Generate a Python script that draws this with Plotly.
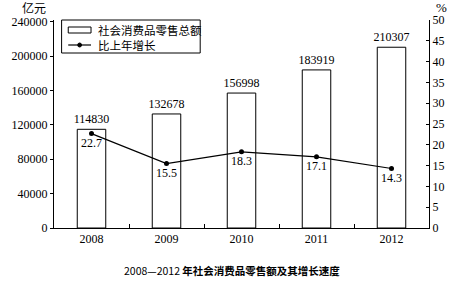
import plotly.graph_objects as go

years = ["2008", "2009", "2010", "2011", "2012"]
sales = [114830, 132678, 156998, 183919, 210307]
growth = [22.7, 15.5, 18.3, 17.1, 14.3]
left_ticks = [0, 40000, 80000, 120000, 160000, 200000, 240000]
right_ticks = [0, 5, 10, 15, 20, 25, 30, 35, 40, 45, 50]
legend_names = ["社会消费品零售总额", "比上年增长"]

FONT = "Times New Roman, Liberation Serif, Tinos, DejaVu Serif, serif"
CJK = "Noto Sans CJK SC"

fig = go.Figure()
fig.add_trace(go.Bar(
    x=years, y=sales, name=legend_names[0],
    marker=dict(color="white", line=dict(color="black", width=1)),
    width=0.38,
    text=[str(v) for v in sales], textposition="outside",
    constraintext="none",
    textfont=dict(family=FONT, size=12, color="black"),
    cliponaxis=False, showlegend=False,
))
fig.add_trace(go.Scatter(
    x=years, y=growth, name=legend_names[1], yaxis="y2",
    mode="lines+markers+text",
    line=dict(color="black", width=1.2),
    marker=dict(color="black", size=5),
    text=[f"{v:.1f}" for v in growth], textposition="bottom center",
    textfont=dict(family=FONT, size=12, color="black"),
    cliponaxis=False, showlegend=False,
))

W, H = 456, 281
L, R, T, B = 43, 18, 20, 53
pw, ph = W - L - R, H - T - B


def px(x):
    return (x - L) / pw


def py(y):
    return (H - B - y) / ph


fig.update_layout(
    width=W, height=H,
    margin=dict(l=L, r=R, t=T, b=B),
    paper_bgcolor="white", plot_bgcolor="white",
    font=dict(family=FONT, size=12, color="black"),
    xaxis=dict(
        type="category", showline=True, linecolor="black", linewidth=1,
        ticks="inside", tickson="boundaries", ticklen=4, tickcolor="black",
        showgrid=False, tickfont=dict(family=FONT, size=12),
        range=[-0.5, 4.5],
    ),
    yaxis=dict(
        range=[0, 242000], tickvals=left_ticks,
        ticktext=[str(v) for v in left_ticks],
        showline=True, linecolor="black", linewidth=1,
        ticks="outside", ticklen=3, tickcolor="black",
        showgrid=False, zeroline=False,
        tickfont=dict(family=FONT, size=12),
    ),
    yaxis2=dict(
        overlaying="y", side="right",
        range=[0, 50], tickvals=right_ticks,
        showline=True, linecolor="black", linewidth=1,
        ticks="inside", ticklen=3, tickcolor="black",
        showgrid=False, zeroline=False,
        tickfont=dict(family=FONT, size=12),
    ),
)

# manual legend (box, symbols, labels)
fig.add_shape(type="rect", xref="paper", yref="paper",
              x0=px(51), x1=px(197), y0=py(53), y1=py(20),
              line=dict(color="black", width=1), fillcolor="white", layer="above")
fig.add_shape(type="rect", xref="paper", yref="paper",
              x0=px(58), x1=px(82), y0=py(33), y1=py(27),
              line=dict(color="black", width=1), fillcolor="white", layer="above")
fig.add_shape(type="line", xref="paper", yref="paper",
              x0=px(58), x1=px(82), y0=py(45), y1=py(45),
              line=dict(color="black", width=1.2), layer="above")
fig.add_shape(type="circle", xref="paper", yref="paper",
              x0=px(68), x1=px(72), y0=py(47), y1=py(43),
              line=dict(color="black", width=1), fillcolor="black", layer="above")
for name, yy in zip(legend_names, [30, 45]):
    fig.add_annotation(text=name, xref="paper", yref="paper", x=px(87), y=py(yy),
                       xanchor="left", yanchor="middle", showarrow=False,
                       font=dict(family=CJK, size=11.5, color="black"))

fig.add_annotation(text="亿元", xref="paper", yref="paper", x=px(7), y=py(8),
                   xanchor="left", yanchor="middle", showarrow=False,
                   font=dict(family=CJK, size=12, color="black"))
fig.add_annotation(text="%", xref="paper", yref="paper", x=px(443), y=py(8),
                   xanchor="left", yanchor="middle", showarrow=False,
                   font=dict(family=FONT, size=13, color="black"))
fig.add_annotation(text="2008—2012 <b>年社会消费品零售额及其增长速度</b>",
                   xref="paper", yref="paper", x=px(230), y=py(270),
                   xanchor="center", yanchor="middle", showarrow=False,
                   font=dict(family=CJK, size=10.5, color="black"))

fig.write_html("out.html")
